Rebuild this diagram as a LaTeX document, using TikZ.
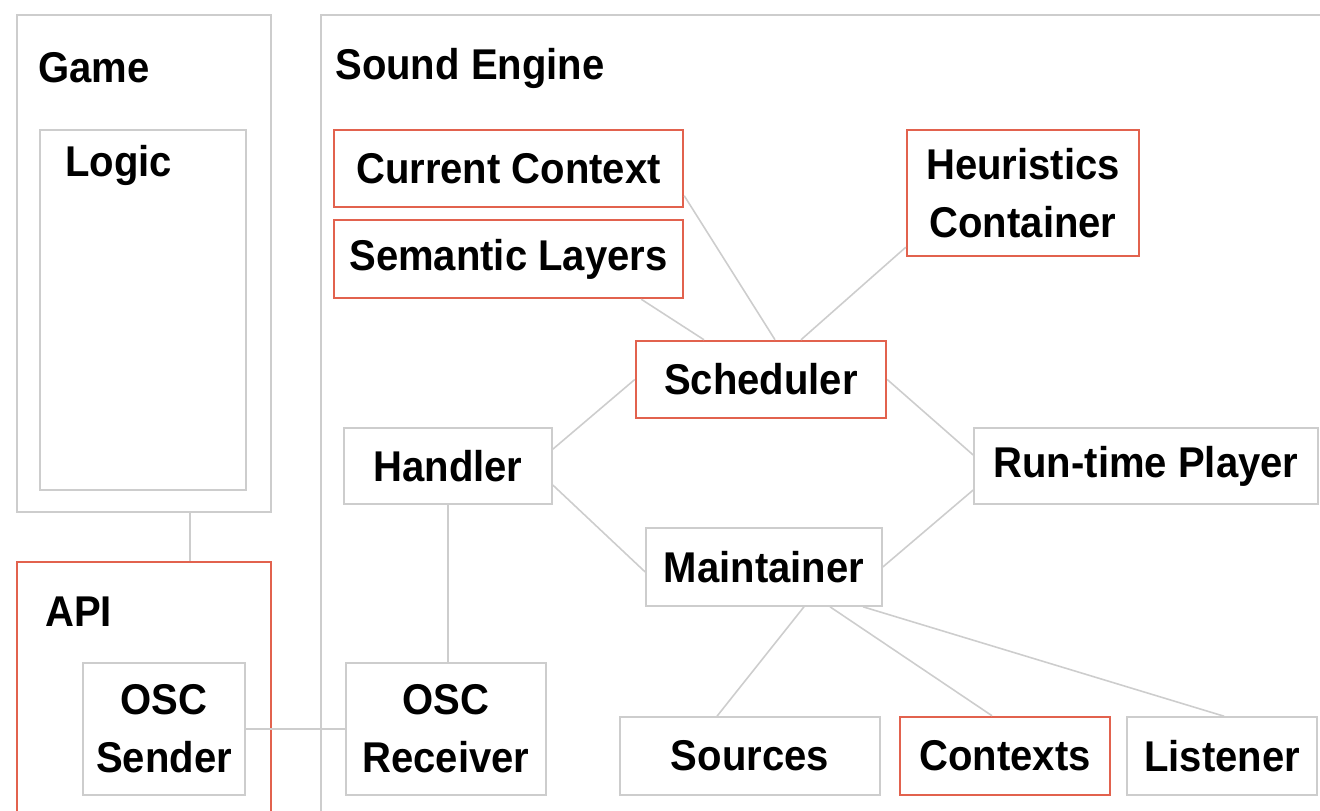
\documentclass[tikz,border=0pt]{standalone}
\usepackage{fontspec}
\setmainfont[FakeStretch=0.93]{Liberation Sans}
\usepackage{tikz}
\usetikzlibrary{positioning, calc}
\definecolor{edgegray}{RGB}{205, 205, 205}
\definecolor{accentred}{RGB}{226, 98, 78}

\begin{document}
\begin{tikzpicture}[
    unit/.style={
        rectangle, draw=#1, line width=0.9pt,
        fill=white, inner sep=0pt, align=center,
        font=\bfseries\fontsize{24.5}{33}\selectfont
    },
    unit/.default=edgegray,
    keyunit/.style={unit=accentred, line width=1.4pt},
    groupbox/.style={
        rectangle, draw=#1, line width=0.9pt, inner sep=0pt
    },
    grouplabel/.style={
        anchor=west, inner sep=0pt,
        font=\bfseries\fontsize{24.5}{33}\selectfont
    },
    link/.style={draw=edgegray, line width=0.9pt}
]

\useasboundingbox (0,0) rectangle (26.4,-16.22);
\clip (0,0) rectangle (26.4,-16.22);

% ==============================================================================
% CONTAINERS: GAME, API, SOUND ENGINE
% ==============================================================================
\node[groupbox=edgegray, minimum width=5.08cm, minimum height=9.94cm] (game) at (2.88,-5.27) {};
\node[grouplabel] (gamelbl) at (0.76,-1.36) {Game};

\node[groupbox=edgegray, minimum width=4.12cm, minimum height=7.2cm] (logic) at (2.86,-6.2) {};
\node[grouplabel] (logiclbl) at (1.30,-3.30) {Logic};

\node[groupbox=accentred, line width=1.4pt, minimum width=5.08cm, minimum height=5.36cm] (api) at (2.88,-13.92) {};
\node[grouplabel] (apilbl) at (0.90,-12.24) {API};

\node[groupbox=edgegray, minimum width=20.38cm, minimum height=16.3cm] (engine) at (16.61,-8.45) {};
\node[grouplabel] (enginelbl) at (6.70,-1.36) {Sound Engine};

% ==============================================================================
% UNITS
% ==============================================================================
\node[unit, minimum width=3.24cm, minimum height=2.64cm] (sender) at (3.28,-14.58) {OSC\\Sender};
\node[unit, minimum width=4.0cm, minimum height=2.64cm] (receiver) at (8.92,-14.58) {OSC\\Receiver};

\node[keyunit, minimum width=6.98cm, minimum height=1.54cm] (current) at (10.17,-3.37) {Current Context};
\node[keyunit, minimum width=6.98cm, minimum height=1.56cm] (semantic) at (10.17,-5.18) {Semantic Layers};
\node[keyunit, minimum width=4.64cm, minimum height=2.52cm] (heuristics) at (20.46,-3.86) {Heuristics\\Container};

\node[keyunit, minimum width=5.0cm, minimum height=1.54cm] (scheduler) at (15.22,-7.59) {Scheduler};
\node[unit, minimum width=4.16cm, minimum height=1.52cm] (handler) at (8.96,-9.32) {Handler};
\node[unit, minimum width=6.88cm, minimum height=1.52cm] (player) at (22.92,-9.32) {Run-time Player};
\node[unit, minimum width=4.72cm, minimum height=1.56cm] (maintainer) at (15.28,-11.34) {Maintainer};

\node[unit, minimum width=5.2cm, minimum height=1.56cm] (sources) at (15.0,-15.12) {Sources};
\node[keyunit, minimum width=4.2cm, minimum height=1.56cm, right=0.36cm of sources] (contexts) {Contexts};
\node[unit, minimum width=3.8cm, minimum height=1.56cm, right=0.30cm of contexts] (listener) {Listener};

% ==============================================================================
% LINKS
% ==============================================================================
\draw[link] ([xshift=0.92cm]game.south) -- ([xshift=0.92cm]api.north);
\draw[link] (sender.east) -- (receiver.west);
\draw[link] (handler.south) -- (receiver.north -| handler.south);

\draw[link] ($(current.south east)+(0,0.25)$) -- ([xshift=0.28cm]scheduler.north);
\draw[link] ([xshift=-0.86cm]semantic.south east) -- ([xshift=-1.14cm]scheduler.north);
\draw[link] ([yshift=0.2cm]heuristics.south west) -- ([xshift=0.8cm]scheduler.north);

\draw[link] (scheduler.west) -- ([yshift=-0.44cm]handler.north east);
\draw[link] (scheduler.east) -- ([yshift=0.22cm]player.west);
\draw[link] ([yshift=-0.38cm]handler.east) -- ([yshift=-0.1cm]maintainer.west);
\draw[link] (maintainer.east) -- ([yshift=-0.48cm]player.west);

\draw[link] ([xshift=0.8cm]maintainer.south) -- ([xshift=-0.66cm]sources.north);
\draw[link] ([xshift=1.32cm]maintainer.south) -- ([xshift=-0.26cm]contexts.north);
\draw[link] ([xshift=1.98cm]maintainer.south) -- ([xshift=0.04cm]listener.north);

\end{tikzpicture}
\end{document}
